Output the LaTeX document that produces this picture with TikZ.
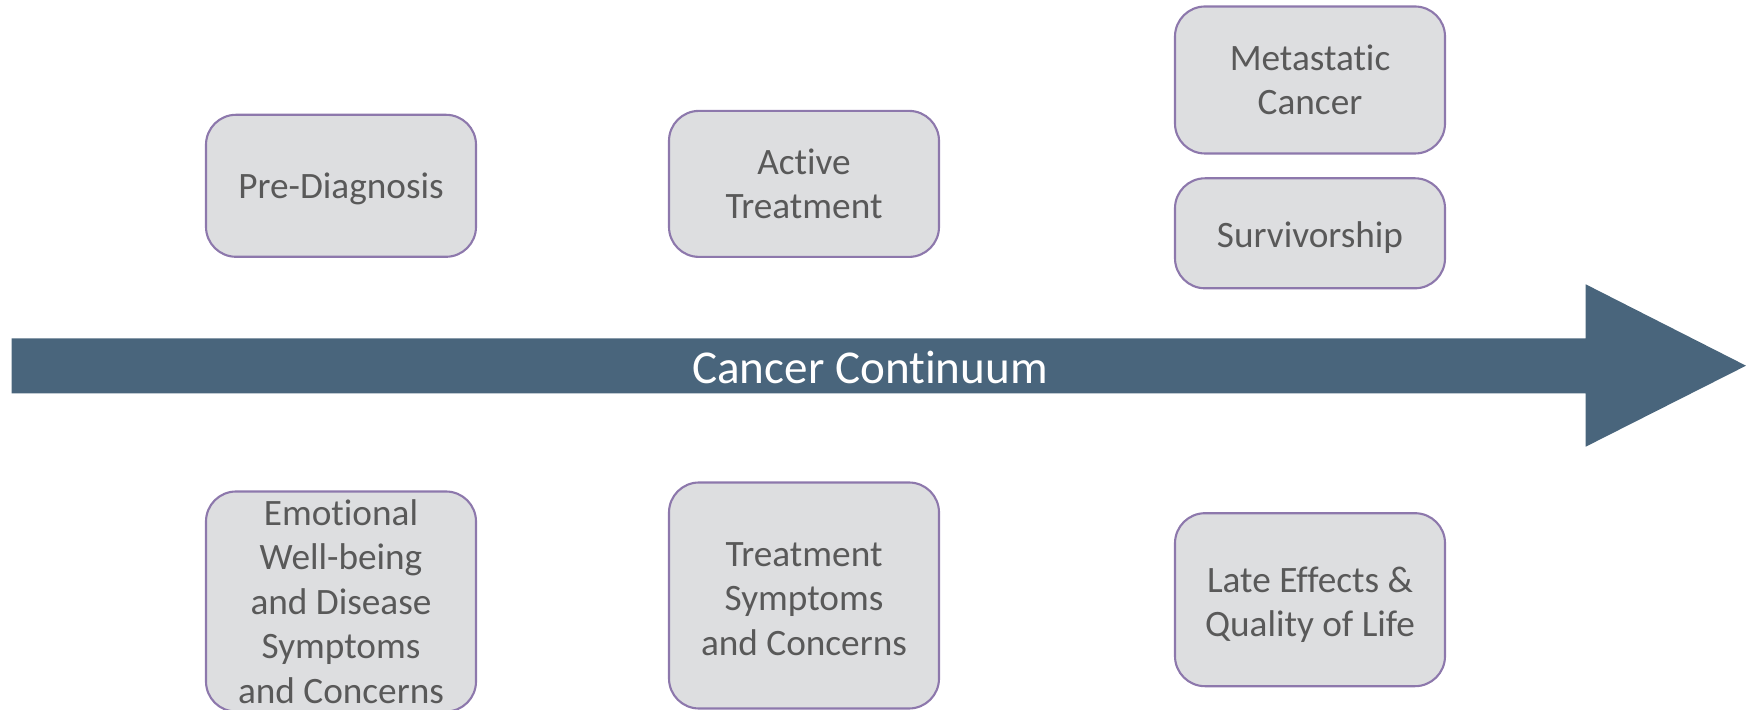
\documentclass[tikz,border=0pt]{standalone}
\usepackage{fontspec}
\setmainfont[Ligatures=NoCommon]{Carlito}
\usepackage{xcolor}
\usepackage{tikz}
\usetikzlibrary {positioning}
\definecolor{boxfill}{RGB}{221,222,224}
\definecolor{boxline}{RGB}{141,120,172}
\definecolor{boxtext}{RGB}{89,89,89}
\definecolor{arrowblue}{RGB}{73,101,124}

\begin{document}
\begin{tikzpicture}[stage/.style = {draw=boxline, fill=boxfill, line width=0.6pt, rounded corners=3mm,
    minimum width=27mm, align=center, text=boxtext, inner sep=0pt,
    font=\fontsize{10.6}{12.7}\selectfont}]

\useasboundingbox (0,0) rectangle (17.46,7.10);

\fill[arrowblue] (0.117,3.717) -- (15.857,3.717) -- (15.857,4.257) -- (17.46,3.443)
  -- (15.857,2.633) -- (15.857,3.167) -- (0.117,3.167) -- cycle;
\node (title) at (8.70,3.43) [text=white, font=\fontsize{13.4}{15}\selectfont]{Cancer Continuum};

\node (prediag) at (3.41,5.242) [stage, minimum height=14.2mm]{\rule{0pt}{9pt}Pre-Diagnosis};
\node (active) at (8.04,5.261) [stage, minimum height=14.6mm]{Active\\Treatment};
\node (meta) at (13.10,6.30) [stage, minimum height=14.7mm]{Metastatic\\Cancer};
\node (surv) at (13.10,4.767) [stage, minimum height=11mm]{\rule{0pt}{9.8pt}Survivorship};

\node (emo) at (3.41,1.085) [stage, minimum height=22mm]{Emotional\\Well-being\\and Disease\\Symptoms\\and Concerns};
\node (treat) at (8.04,1.145) [stage, minimum height=22.6mm]{\rule{0pt}{8.7pt}Treatment\\Symptoms\\and Concerns};
\node (late) at (13.10,1.103) [stage, minimum height=17.3mm]{\rule{0pt}{10.2pt}Late Effects \&\\Quality of Life};

\end{tikzpicture}
\end{document}
